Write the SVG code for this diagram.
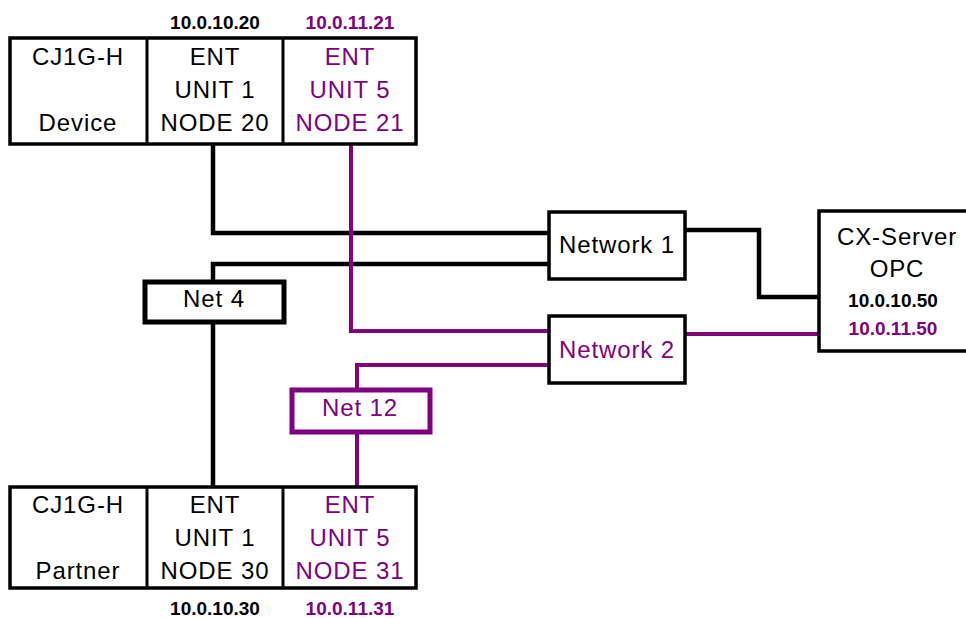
<svg xmlns="http://www.w3.org/2000/svg" width="966" height="618" viewBox="0 0 966 618">
<style>
.box{fill:#fff;stroke:#000;stroke-width:3.5}
.pbox{fill:#fff;stroke:#800080;stroke-width:3.5}
.div{stroke:#000;stroke-width:3}
.t{font-family:"Liberation Sans",Arial,sans-serif;font-size:24px;text-anchor:middle;fill:#000;letter-spacing:0.9px}
.ip{font-family:"Liberation Sans",Arial,sans-serif;font-size:19px;font-weight:bold;text-anchor:middle;fill:#000}
.tp{fill:#800080}
.blk{fill:none;stroke:#000;stroke-width:4.5}
.pur{fill:none;stroke:#800080;stroke-width:4}
</style>
<rect width="966" height="618" fill="#fff"/>
<g id="connectors">
<polyline class="blk" points="213,145 213,233 549,233"/>
<polyline class="blk" points="549,264 213,264 213,281"/>
<polyline class="blk" points="213,323 213,487"/>
<polyline class="blk" points="685,230 759,230 759,297 819,297"/>
<polyline class="pur" points="351,145 351,331 549,331"/>
<polyline class="pur" points="685,334 819,334"/>
<polyline class="pur" points="549,365 357,365 357,388"/>
<polyline class="pur" points="357,433 357,487"/>
</g>
<g id="device">
<rect class="box" x="10" y="38" width="406" height="106"/>
<line class="div" x1="147" y1="38" x2="147" y2="144"/>
<line class="div" x1="283" y1="38" x2="283" y2="144"/>
<text class="t" x="78" y="65">CJ1G-H</text>
<text class="t" x="78" y="131">Device</text>
<text class="t" x="215" y="65">ENT</text>
<text class="t" x="215" y="98">UNIT 1</text>
<text class="t" x="215" y="131">NODE 20</text>
<text class="t tp" x="350" y="65">ENT</text>
<text class="t tp" x="350" y="98">UNIT 5</text>
<text class="t tp" x="350" y="131">NODE 21</text>
<text class="ip" x="215" y="29">10.0.10.20</text>
<text class="ip tp" x="350" y="29">10.0.11.21</text>
</g>
<g id="partner">
<rect class="box" x="10" y="487" width="406" height="101"/>
<line class="div" x1="147" y1="487" x2="147" y2="588"/>
<line class="div" x1="283" y1="487" x2="283" y2="588"/>
<text class="t" x="78" y="513">CJ1G-H</text>
<text class="t" x="78" y="579">Partner</text>
<text class="t" x="215" y="513">ENT</text>
<text class="t" x="215" y="546">UNIT 1</text>
<text class="t" x="215" y="579">NODE 30</text>
<text class="t tp" x="350" y="513">ENT</text>
<text class="t tp" x="350" y="546">UNIT 5</text>
<text class="t tp" x="350" y="579">NODE 31</text>
<text class="ip" x="215" y="615">10.0.10.30</text>
<text class="ip tp" x="350" y="615">10.0.11.31</text>
</g>
<g id="network1">
<rect class="box" x="549" y="212" width="136" height="67"/>
<text class="t" x="617" y="253">Network 1</text>
</g>
<g id="network2">
<rect class="box" x="549" y="316" width="136" height="67"/>
<text class="t tp" x="617" y="358">Network 2</text>
</g>
<g id="net4">
<rect class="box" x="145" y="282" width="139" height="40" style="stroke-width:5"/>
<text class="t" x="214" y="307">Net 4</text>
</g>
<g id="net12">
<rect class="pbox" x="292" y="390" width="138" height="42" style="stroke-width:5"/>
<text class="t tp" x="360" y="416">Net 12</text>
</g>
<g id="cxserver">
<rect class="box" x="819" y="211" width="160" height="140"/>
<text class="t" x="897" y="245">CX-Server</text>
<text class="t" x="897" y="277">OPC</text>
<text class="ip" x="893" y="307">10.0.10.50</text>
<text class="ip tp" x="893" y="335">10.0.11.50</text>
</g>
</svg>
